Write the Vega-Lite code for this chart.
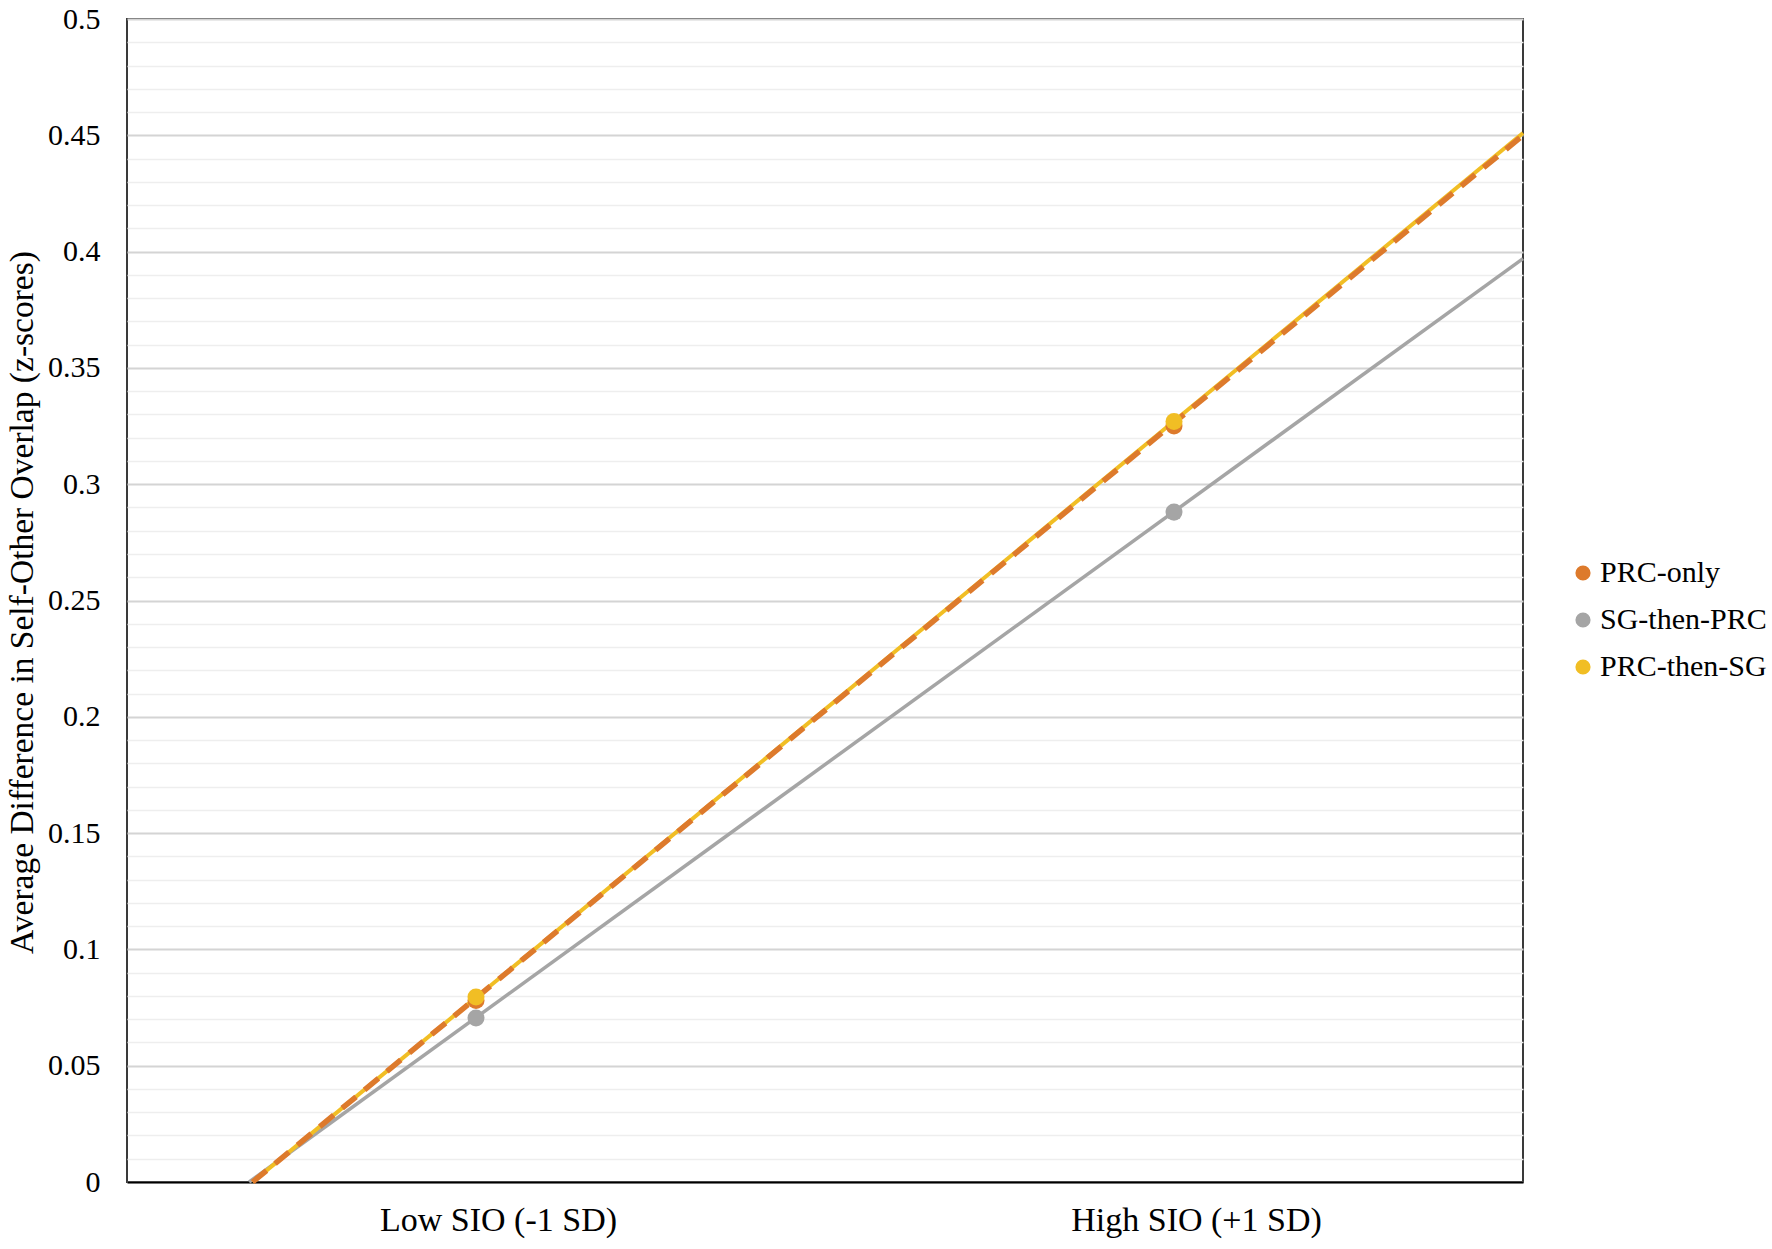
{
  "$schema": "https://vega.github.io/schema/vega-lite/v6.json",
  "autosize": {"type": "none"},
  "padding": {"left": 127, "top": 19, "right": 249, "bottom": 67},
  "width": 1396,
  "height": 1163,
  "background": "white",
  "config": {
    "font": "Liberation Serif",
    "view": {"stroke": "#3a3a3a", "strokeWidth": 2},
    "axis": {"labelFont": "Liberation Serif", "titleFont": "Liberation Serif", "labelColor": "#000000", "titleColor": "#000000", "labelLimit": 0}
  },
  "datasets": {
    "obs": [
      {"series": "PRC-only", "sio": -1, "value": 0.078},
      {"series": "PRC-only", "sio": 1, "value": 0.325},
      {"series": "SG-then-PRC", "sio": -1, "value": 0.0705},
      {"series": "SG-then-PRC", "sio": 1, "value": 0.288},
      {"series": "PRC-then-SG", "sio": -1, "value": 0.0795},
      {"series": "PRC-then-SG", "sio": 1, "value": 0.327}
    ],
    "fit": [
      {"series": "SG-then-PRC", "sio": -1.65, "value": 0},
      {"series": "SG-then-PRC", "sio": 2, "value": 0.397},
      {"series": "PRC-then-SG", "sio": -1.64, "value": 0},
      {"series": "PRC-then-SG", "sio": 2, "value": 0.451},
      {"series": "PRC-only", "sio": -1.64, "value": 0},
      {"series": "PRC-only", "sio": 2, "value": 0.45}
    ]
  },
  "layer": [
    {
      "data": {"name": "fit"},
      "transform": [{"filter": "datum.series === 'SG-then-PRC'"}],
      "mark": {"type": "line", "strokeWidth": 3.5, "color": "#A5A5A5"},
      "encoding": {
        "x": {"field": "sio", "type": "quantitative", "scale": {"domain": [-2, 2], "nice": false, "zero": false},
          "axis": {"values": [-1, 1], "labelExpr": "datum.value < 0 ? 'Low SIO (-1 SD)' : 'High SIO (+1 SD)'",
            "labelFontSize": 34, "labelPadding": 21, "labelOffset": 22, "labelLimit": 0, "ticks": false, "tickSize": 0, "grid": false,
            "domain": true, "domainColor": "#000000", "domainWidth": 2, "title": null}},
        "y": {"field": "value", "type": "quantitative", "scale": {"domain": [0, 0.5], "nice": false, "zero": true},
          "axis": {"orient": "right", "values": [0.01,0.02,0.03,0.04,0.06,0.07,0.08,0.09,0.11,0.12,0.13,0.14,0.16,0.17,0.18,0.19,0.21,0.22,0.23,0.24,0.26,0.27,0.28,0.29,0.31,0.32,0.33,0.34,0.36,0.37,0.38,0.39,0.41,0.42,0.43,0.44,0.46,0.47,0.48,0.49],
            "grid": true, "gridColor": "#eeeeee", "gridWidth": 1.5, "labels": false, "ticks": false, "tickSize": 0, "domain": false, "title": null}}
      }
    },
    {
      "data": {"name": "fit"},
      "transform": [{"filter": "datum.series === 'PRC-then-SG'"}],
      "mark": {"type": "line", "strokeWidth": 4, "color": "#F1BE24"},
      "encoding": {
        "x": {"field": "sio", "type": "quantitative"},
        "y": {"field": "value", "type": "quantitative", "axis": null}
      }
    },
    {
      "data": {"name": "fit"},
      "transform": [{"filter": "datum.series === 'PRC-only'"}],
      "mark": {"type": "line", "strokeWidth": 5.5, "strokeDash": [18, 11], "color": "#DD7A2C"},
      "encoding": {
        "x": {"field": "sio", "type": "quantitative"},
        "y": {"field": "value", "type": "quantitative",
          "axis": {"orient": "left", "values": [0,0.05,0.1,0.15,0.2,0.25,0.3,0.35,0.4,0.45,0.5],
            "labelExpr": "'' + datum.value", "labelFontSize": 30, "labelPadding": 27, "ticks": false, "tickSize": 0,
            "domain": false, "grid": true, "gridColor": "#d4d4d4", "gridWidth": 2,
            "title": "Average Difference in Self-Other Overlap (z-scores)", "titleFontSize": 33.5, "titleFontWeight": "normal",
            "titleAngle": 270, "titleX": -105, "titleY": 583, "titleAlign": "center", "titleBaseline": "middle"}}
      }
    },
    {
      "data": {"name": "obs"},
      "mark": {"type": "circle", "size": 290, "opacity": 1},
      "encoding": {
        "x": {"field": "sio", "type": "quantitative"},
        "y": {"field": "value", "type": "quantitative", "axis": null},
        "color": {"field": "series", "type": "nominal",
          "scale": {"domain": ["PRC-only", "SG-then-PRC", "PRC-then-SG"], "range": ["#DD7A2C", "#A5A5A5", "#F1BE24"]},
          "legend": {"orient": "none", "legendX": 1441, "legendY": 539, "title": null, "symbolType": "circle",
            "symbolSize": 230, "symbolStrokeWidth": 0, "labelFontSize": 30, "labelFont": "Liberation Serif",
            "labelColor": "#000000", "labelOffset": 2, "rowPadding": 17, "padding": 0, "labelLimit": 0}}
      }
    }
  ],
  "resolve": {"axis": {"y": "independent"}}
}
